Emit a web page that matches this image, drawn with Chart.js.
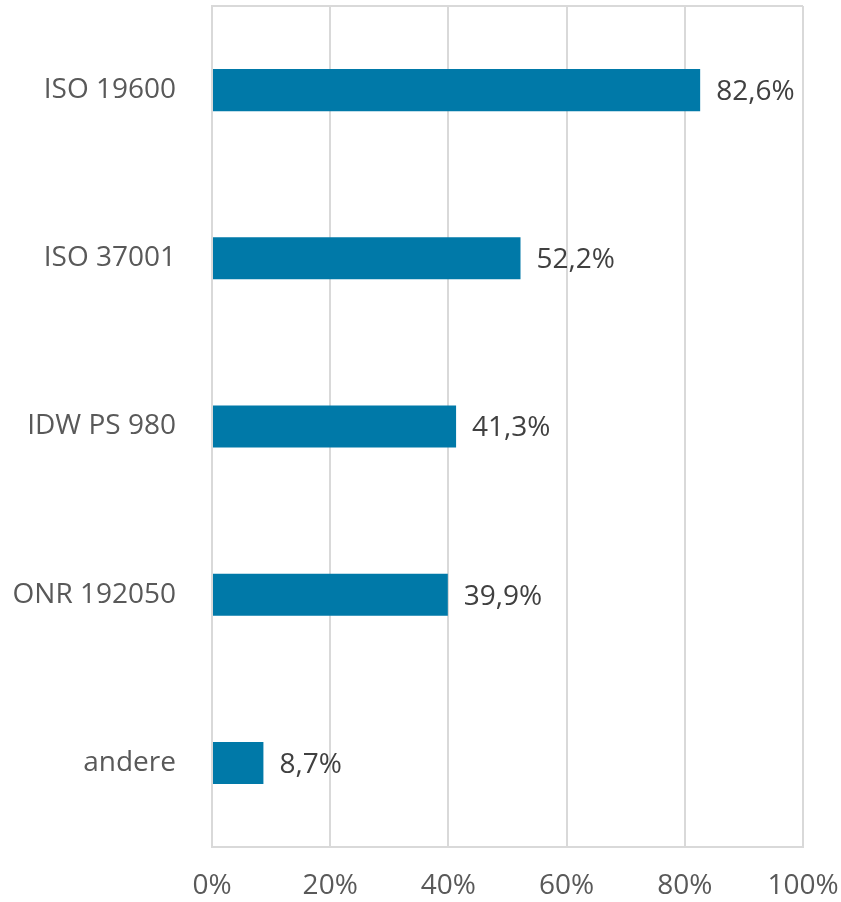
<!DOCTYPE html>
<html>
<head>
<meta charset="utf-8">
<script src="https://cdn.jsdelivr.net/npm/chart.js@4"></script>
<style>
  html, body { margin: 0; padding: 0; background: #fff; }
  #wrap { width: 841px; height: 902px; }
</style>
</head>
<body>
<div id="wrap"><canvas id="chart" width="841" height="902"></canvas></div>
<script>
// --- data ---
const categories = ["ISO 19600", "ISO 37001", "IDW PS 980", "ONR 192050", "andere"];
const shares = [82.6, 52.2, 41.3, 39.9, 8.7];
const xTicks = [0, 20, 40, 60, 80, 100];

const gridColor = "#d9d9d9";
const fontFamily = "'Open Sans', sans-serif";

function noPad(axis) {
    axis.paddingTop = 0;
    axis.paddingBottom = 0;
    axis.paddingLeft = 0;
    axis.paddingRight = 0;
}

// value labels + top frame line
const barLabels = {
    id: "barLabels",
    afterDatasetsDraw(chart) {
        const ctx = chart.ctx;
        const area = chart.chartArea;
        ctx.save();
        ctx.strokeStyle = gridColor;
        ctx.lineWidth = 2;
        ctx.beginPath();
        ctx.moveTo(area.left, area.top);
        ctx.lineTo(area.right, area.top);
        ctx.stroke();

        ctx.fillStyle = "#404040";
        ctx.font = "28px " + fontFamily;
        ctx.textAlign = "left";
        ctx.textBaseline = "middle";
        chart.getDatasetMeta(0).data.forEach((bar, i) => {
            const txt = shares[i].toFixed(1).replace(".", ",") + "%";
            ctx.fillText(txt, bar.x + 16, bar.y + 2);
        });
        ctx.restore();
    }
};

new Chart(document.getElementById("chart"), {
    type: "bar",
    data: {
        labels: categories,
        datasets: [{
            data: shares,
            backgroundColor: "#0079a8",
            borderWidth: 0,
            barPercentage: 1,
            categoryPercentage: 0.25
        }]
    },
    options: {
        indexAxis: "y",
        responsive: false,
        animation: false,
        layout: { padding: { top: 6, right: 38, bottom: 3, left: 0 } },
        plugins: {
            legend: { display: false },
            tooltip: { enabled: false }
        },
        scales: {
            x: {
                min: 0,
                max: 100,
                afterBuildTicks: (axis) => { axis.ticks = xTicks.map(v => ({ value: v })); },
                afterFit: (axis) => { axis.height = 52; noPad(axis); },
                ticks: {
                    callback: (v) => v + "%",
                    color: "#595959",
                    font: { size: 28, family: fontFamily },
                    padding: 22,
                    maxRotation: 0
                },
                grid: { color: gridColor, lineWidth: 2, drawTicks: false },
                border: { color: gridColor, width: 2 }
            },
            y: {
                afterFit: (axis) => { axis.width = 212; noPad(axis); },
                ticks: {
                    color: "#595959",
                    font: { size: 28, family: fontFamily },
                    padding: 36
                },
                grid: { display: false, drawTicks: false },
                border: { color: gridColor, width: 2 }
            }
        }
    },
    plugins: [barLabels]
});
</script>
</body>
</html>
